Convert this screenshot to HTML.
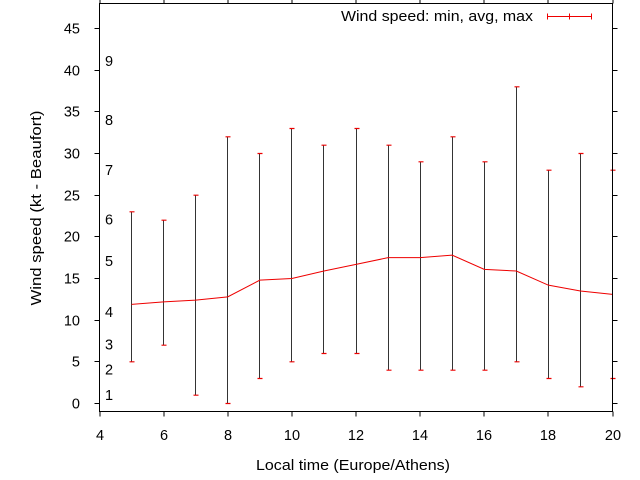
<!DOCTYPE html>
<html><head><meta charset="utf-8"><style>
body{margin:0;background:#fff}
svg{display:block;font-family:"Liberation Sans","DejaVu Sans",sans-serif}
</style></head><body>
<svg id="chart" width="640" height="480" viewBox="0 0 640 480">
<rect width="640" height="480" fill="#fff"/>
<g id="grid"></g>
<g id="marks"></g>
<rect x="99.5" y="3.5" width="513" height="408" fill="none" stroke="#000" stroke-width="1"/>
<text x="36" y="213" font-size="14.5" text-anchor="middle" textLength="195" lengthAdjust="spacingAndGlyphs" transform="rotate(-90 36 208)">Wind speed (kt - Beaufort)</text>
<text x="353" y="470" font-size="14.5" text-anchor="middle" textLength="194" lengthAdjust="spacingAndGlyphs">Local time (Europe/Athens)</text>
<g>
<text x="533" y="21" font-size="14.5" text-anchor="end" textLength="192" lengthAdjust="spacingAndGlyphs">Wind speed: min, avg, max</text>
<path d="M547.5 16.5H591.5M547.5 13.5V19.5M591.5 13.5V19.5M569.5 13.5V19.5" stroke="#e00" stroke-width="1"/>
</g>
</svg>
<script>
const hours=[5,6,7,8,9,10,11,12,13,14,15,16,17,18,19,20];
const avgSpeed=[11.9,12.2,12.4,12.8,14.8,15,15.9,16.7,17.5,17.5,17.8,16.1,15.9,14.2,13.5,13.1];
const minSpeed=[5,7,1,0,3,5,6,6,4,4,4,4,5,3,2,3];
const maxSpeed=[23,22,25,32,30,33,31,33,31,29,32,29,38,28,30,28];
const xTicks=[4,6,8,10,12,14,16,18,20];
const yTicks=[0,5,10,15,20,25,30,35,40,45];
const beaufortLabels=["1","2","3","4","5","6","7","8","9"];
const beaufortValues=[1,4.1,7.1,11,17.1,22.1,28,34,41.1];
const NS="http://www.w3.org/2000/svg";
const xs=v=>99.5+(v-4)*(513/16);
const ys=v=>403.5-v*(375/45);
function mk(tag,attrs,parent,text){const e=document.createElementNS(NS,tag);for(const k in attrs)e.setAttribute(k,attrs[k]);if(text!==undefined)e.textContent=text;parent.appendChild(e);return e;}
const g=document.getElementById('grid'),m=document.getElementById('marks');
xTicks.forEach(t=>{const x=Math.round(xs(t));
 const a=mk('line',{x1:x,x2:x,y1:411.5,y2:416.5,stroke:'#000'},g);
 
 
 const b=mk('line',{x1:x,x2:x,y1:3.5,y2:-1,stroke:'#000'},g);
 
 
 const l=mk('text',{x:x,y:440,'font-size':14.5,'text-anchor':'middle'},g,String(t));
 
 });
yTicks.forEach(t=>{const y=Math.round(ys(t)-0.5)+0.5;
 const a=mk('line',{x1:94.5,x2:99.5,y1:y,y2:y,stroke:'#000'},g);
 
 
 const b=mk('line',{x1:612.5,x2:617.5,y1:y,y2:y,stroke:'#000'},g);
 
 
 const l=mk('text',{x:80,y:y+5,'font-size':14.5,'text-anchor':'end'},g,String(t));
 
 });
beaufortLabels.forEach((s,i)=>{const l=mk('text',{x:105,y:ys(beaufortValues[i])+5,'font-size':14.5},g,s);
 
 });
hours.forEach((h,i)=>{const x=Math.floor(xs(h))+0.5,y1=ys(minSpeed[i]),y2=ys(maxSpeed[i]);
 const p=mk('path',{d:`M${x} ${y1}V${y2}`,stroke:'#000',fill:'none','stroke-width':0.8},m);
 
 
 const c=mk('path',{d:`M${x-2} ${y1}H${x+3}M${x-2} ${y2}H${x+3}`,stroke:'#e00','stroke-width':1.2},m);
 
 });
const line=mk('polyline',{points:hours.map((h,i)=>xs(h)+','+ys(avgSpeed[i])).join(' '),fill:'none',stroke:'#e00','stroke-width':1},m);


</script>
</body></html>
